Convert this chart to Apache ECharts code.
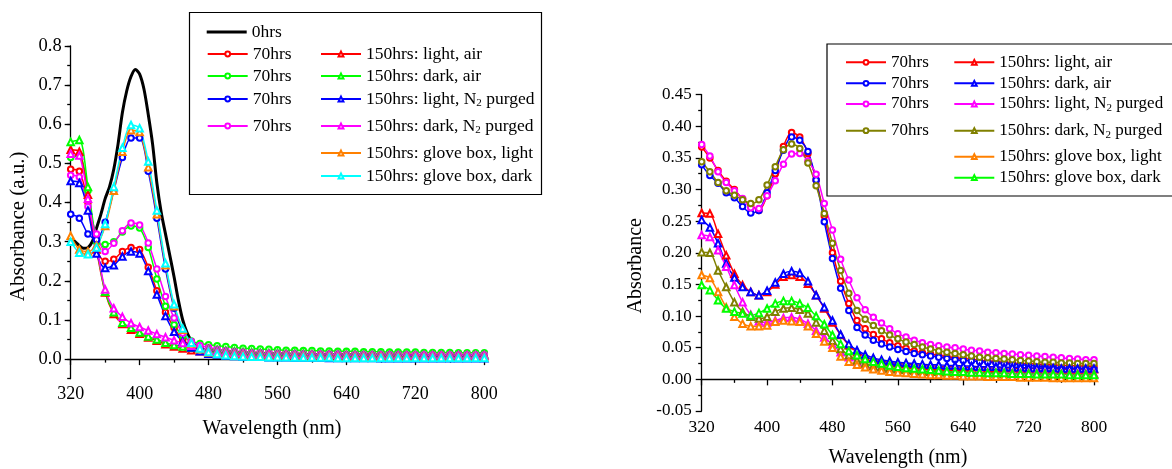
<!DOCTYPE html>
<html>
<head>
<meta charset="utf-8">
<script src="https://cdn.jsdelivr.net/npm/echarts@6/dist/echarts.min.js"></script>
<style>
  html, body { margin: 0; padding: 0; background: #ffffff; }
  #chart { width: 1172px; height: 469px; }
</style>
</head>
<body>
<div id="chart"></div>
<script>
// ---------------- data ----------------
// Common wavelength grid (nm) for the marked spectra
const wavelengths = [
  320, 330, 340, 350, 360, 370, 380, 390, 400, 410,
  420, 430, 440, 450, 460, 470, 480, 490, 500, 510,
  520, 530, 540, 550, 560, 570, 580, 590, 600, 610,
  620, 630, 640, 650, 660, 670, 680, 690, 700, 710,
  720, 730, 740, 750, 760, 770, 780, 790, 800
];

// Fresh film (0 hrs), finer sampling around the band
const fresh0hWl = [
  320, 325, 330, 335, 340, 345, 350, 355, 360, 365,
  370, 375, 380, 385, 390, 395, 400, 405, 410, 415,
  420, 425, 430, 435, 440, 445, 450, 455, 460, 465,
  470, 475, 480, 490, 500, 510, 520, 530, 540, 550,
  560, 570, 580, 590, 600, 610, 620, 630, 640, 650,
  660, 670, 680, 690, 700, 710, 720, 730, 740, 750,
  760, 770, 780, 790, 800
];
const fresh0hAbs = [
  0.310, 0.300, 0.290, 0.283, 0.285, 0.300, 0.335, 0.370, 0.410, 0.440,
  0.485, 0.550, 0.630, 0.685, 0.722, 0.740, 0.728, 0.690, 0.625, 0.550,
  0.450, 0.375, 0.320, 0.265, 0.210, 0.150, 0.100, 0.068, 0.047, 0.036,
  0.028, 0.023, 0.020, 0.016, 0.014, 0.013, 0.012, 0.012, 0.011, 0.011,
  0.011, 0.010, 0.010, 0.010, 0.010, 0.009, 0.009, 0.009, 0.009, 0.009,
  0.008, 0.008, 0.008, 0.008, 0.008, 0.008, 0.008, 0.008, 0.008, 0.008,
  0.008, 0.008, 0.008, 0.008, 0.008
];

// Left panel: 70 hrs
const left70hRed = [
  0.485, 0.480, 0.400, 0.280, 0.250, 0.255, 0.275, 0.285, 0.280, 0.235,
  0.175, 0.120, 0.080, 0.050, 0.035, 0.028, 0.023, 0.020, 0.019, 0.018,
  0.017, 0.016, 0.016, 0.015, 0.015, 0.015, 0.014, 0.014, 0.014, 0.014,
  0.013, 0.013, 0.013, 0.013, 0.013, 0.013, 0.012, 0.012, 0.012, 0.012,
  0.012, 0.012, 0.012, 0.012, 0.012, 0.012, 0.011, 0.011, 0.011
];
const left70hGreen = [
  0.515, 0.520, 0.430, 0.300, 0.293, 0.300, 0.325, 0.340, 0.335, 0.285,
  0.205, 0.135, 0.088, 0.060, 0.046, 0.040, 0.037, 0.034, 0.032, 0.030,
  0.028, 0.027, 0.026, 0.025, 0.024, 0.023, 0.023, 0.022, 0.022, 0.021,
  0.021, 0.020, 0.020, 0.020, 0.019, 0.019, 0.019, 0.018, 0.018, 0.018,
  0.018, 0.017, 0.017, 0.017, 0.017, 0.016, 0.016, 0.016, 0.016
];
const left70hBlue = [
  0.370, 0.360, 0.320, 0.305, 0.350, 0.430, 0.515, 0.565, 0.565, 0.480,
  0.360, 0.230, 0.130, 0.070, 0.040, 0.025, 0.020, 0.017, 0.015, 0.014,
  0.013, 0.012, 0.012, 0.011, 0.011, 0.011, 0.010, 0.010, 0.010, 0.010,
  0.009, 0.009, 0.009, 0.009, 0.009, 0.008, 0.008, 0.008, 0.008, 0.008,
  0.008, 0.008, 0.007, 0.007, 0.007, 0.007, 0.007, 0.007, 0.007
];
const left70hMagenta = [
  0.470, 0.465, 0.390, 0.320, 0.275, 0.296, 0.328, 0.348, 0.343, 0.297,
  0.230, 0.160, 0.105, 0.066, 0.045, 0.035, 0.030, 0.025, 0.022, 0.020,
  0.018, 0.017, 0.016, 0.015, 0.015, 0.014, 0.014, 0.014, 0.013, 0.013,
  0.013, 0.013, 0.012, 0.012, 0.012, 0.012, 0.012, 0.012, 0.012, 0.011,
  0.011, 0.011, 0.011, 0.011, 0.011, 0.011, 0.011, 0.011, 0.011
];

// Left panel: 150 hrs
const left150hLightAir = [
  0.535, 0.530, 0.420, 0.280, 0.170, 0.115, 0.090, 0.075, 0.065, 0.055,
  0.047, 0.038, 0.032, 0.027, 0.023, 0.020, 0.018, 0.016, 0.015, 0.014,
  0.013, 0.013, 0.012, 0.012, 0.011, 0.011, 0.011, 0.010, 0.010, 0.010,
  0.010, 0.010, 0.009, 0.009, 0.009, 0.009, 0.009, 0.009, 0.009, 0.009,
  0.009, 0.009, 0.009, 0.009, 0.009, 0.009, 0.009, 0.009, 0.009
];
const left150hDarkAir = [
  0.555, 0.560, 0.440, 0.290, 0.172, 0.120, 0.093, 0.080, 0.068, 0.058,
  0.050, 0.042, 0.036, 0.032, 0.029, 0.027, 0.026, 0.024, 0.022, 0.020,
  0.019, 0.018, 0.017, 0.016, 0.016, 0.015, 0.015, 0.015, 0.014, 0.014,
  0.014, 0.014, 0.013, 0.013, 0.013, 0.013, 0.013, 0.013, 0.013, 0.012,
  0.012, 0.012, 0.012, 0.012, 0.012, 0.012, 0.012, 0.012, 0.012
];
const left150hLightN2 = [
  0.455, 0.450, 0.380, 0.270, 0.233, 0.240, 0.262, 0.275, 0.270, 0.225,
  0.165, 0.110, 0.070, 0.045, 0.030, 0.020, 0.014, 0.011, 0.009, 0.008,
  0.007, 0.006, 0.006, 0.005, 0.005, 0.005, 0.004, 0.004, 0.004, 0.004,
  0.003, 0.003, 0.003, 0.003, 0.003, 0.003, 0.002, 0.002, 0.002, 0.002,
  0.002, 0.002, 0.002, 0.002, 0.002, 0.002, 0.002, 0.002, 0.002
];
const left150hDarkN2 = [
  0.525, 0.520, 0.410, 0.290, 0.178, 0.130, 0.108, 0.092, 0.082, 0.073,
  0.064, 0.056, 0.048, 0.041, 0.034, 0.028, 0.023, 0.020, 0.018, 0.016,
  0.015, 0.014, 0.013, 0.013, 0.012, 0.012, 0.012, 0.011, 0.011, 0.011,
  0.011, 0.011, 0.010, 0.010, 0.010, 0.010, 0.010, 0.010, 0.010, 0.010,
  0.010, 0.010, 0.010, 0.010, 0.010, 0.010, 0.010, 0.010, 0.010
];
const left150hGloveLight = [
  0.315, 0.280, 0.275, 0.290, 0.340, 0.430, 0.530, 0.585, 0.580, 0.490,
  0.370, 0.240, 0.135, 0.075, 0.040, 0.025, 0.017, 0.013, 0.011, 0.010,
  0.009, 0.008, 0.008, 0.007, 0.007, 0.007, 0.006, 0.006, 0.006, 0.006,
  0.006, 0.005, 0.005, 0.005, 0.005, 0.005, 0.005, 0.005, 0.005, 0.005,
  0.005, 0.004, 0.004, 0.004, 0.004, 0.004, 0.004, 0.004, 0.004
];
const left150hGloveDark = [
  0.300, 0.272, 0.268, 0.285, 0.345, 0.440, 0.540, 0.598, 0.590, 0.505,
  0.380, 0.245, 0.140, 0.078, 0.042, 0.027, 0.018, 0.013, 0.010, 0.008,
  0.007, 0.006, 0.006, 0.005, 0.005, 0.005, 0.004, 0.004, 0.004, 0.004,
  0.004, 0.003, 0.003, 0.003, 0.003, 0.003, 0.003, 0.003, 0.003, 0.003,
  0.003, 0.003, 0.003, 0.003, 0.003, 0.003, 0.003, 0.003, 0.003
];

// Right panel: 70 hrs
const right70hRed = [
  0.367, 0.350, 0.330, 0.313, 0.300, 0.285, 0.275, 0.267, 0.290, 0.325,
  0.368, 0.390, 0.383, 0.357, 0.315, 0.258, 0.200, 0.155, 0.120, 0.093,
  0.080, 0.071, 0.064, 0.058, 0.053, 0.049, 0.045, 0.042, 0.040, 0.038,
  0.036, 0.034, 0.033, 0.032, 0.030, 0.029, 0.028, 0.027, 0.026, 0.025,
  0.025, 0.024, 0.023, 0.023, 0.022, 0.022, 0.021, 0.021, 0.020
];
const right70hBlue = [
  0.339, 0.322, 0.310, 0.295, 0.287, 0.273, 0.263, 0.267, 0.295, 0.330,
  0.362, 0.383, 0.378, 0.360, 0.315, 0.249, 0.191, 0.144, 0.109, 0.082,
  0.070, 0.062, 0.056, 0.051, 0.047, 0.044, 0.041, 0.039, 0.037, 0.035,
  0.033, 0.031, 0.030, 0.029, 0.028, 0.027, 0.026, 0.025, 0.024, 0.023,
  0.022, 0.021, 0.020, 0.019, 0.018, 0.018, 0.017, 0.017, 0.016
];
const right70hMagenta = [
  0.371, 0.353, 0.328, 0.311, 0.298, 0.286, 0.271, 0.270, 0.290, 0.314,
  0.340, 0.356, 0.357, 0.345, 0.324, 0.278, 0.236, 0.190, 0.157, 0.129,
  0.110, 0.098, 0.089, 0.080, 0.072, 0.067, 0.062, 0.058, 0.055, 0.053,
  0.051, 0.050, 0.048, 0.046, 0.045, 0.043, 0.042, 0.041, 0.040, 0.039,
  0.038, 0.037, 0.036, 0.035, 0.034, 0.033, 0.032, 0.031, 0.031
];
const right70hOlive = [
  0.344, 0.328, 0.311, 0.298, 0.291, 0.284, 0.278, 0.284, 0.307, 0.336,
  0.363, 0.372, 0.365, 0.342, 0.306, 0.262, 0.215, 0.172, 0.136, 0.109,
  0.095, 0.085, 0.077, 0.070, 0.064, 0.059, 0.055, 0.051, 0.048, 0.045,
  0.043, 0.041, 0.039, 0.037, 0.035, 0.034, 0.033, 0.032, 0.031, 0.030,
  0.029, 0.028, 0.027, 0.027, 0.026, 0.026, 0.025, 0.025, 0.025
];

// Right panel: 150 hrs
const right150hLightAir = [
  0.263, 0.262, 0.230, 0.196, 0.167, 0.149, 0.138, 0.133, 0.138, 0.150,
  0.162, 0.165, 0.162, 0.151, 0.133, 0.112, 0.090, 0.070, 0.054, 0.043,
  0.036, 0.032, 0.029, 0.027, 0.025, 0.024, 0.023, 0.022, 0.021, 0.021,
  0.020, 0.020, 0.019, 0.019, 0.019, 0.018, 0.018, 0.018, 0.018, 0.017,
  0.017, 0.017, 0.017, 0.017, 0.016, 0.016, 0.016, 0.016, 0.016
];
const right150hDarkAir = [
  0.252, 0.240, 0.215, 0.183, 0.161, 0.146, 0.138, 0.133, 0.140, 0.153,
  0.167, 0.171, 0.168, 0.155, 0.133, 0.114, 0.093, 0.071, 0.056, 0.046,
  0.039, 0.034, 0.031, 0.029, 0.027, 0.026, 0.025, 0.024, 0.023, 0.023,
  0.022, 0.022, 0.021, 0.021, 0.020, 0.020, 0.020, 0.019, 0.019, 0.019,
  0.018, 0.018, 0.018, 0.018, 0.017, 0.017, 0.017, 0.017, 0.017
];
const right150hLightN2 = [
  0.228, 0.225, 0.204, 0.178, 0.149, 0.122, 0.102, 0.092, 0.090, 0.093,
  0.097, 0.098, 0.095, 0.088, 0.077, 0.066, 0.055, 0.043, 0.035, 0.028,
  0.024, 0.021, 0.019, 0.017, 0.016, 0.015, 0.014, 0.013, 0.013, 0.012,
  0.012, 0.012, 0.011, 0.011, 0.011, 0.011, 0.010, 0.010, 0.010, 0.010,
  0.010, 0.010, 0.010, 0.009, 0.009, 0.009, 0.009, 0.009, 0.009
];
const right150hDarkN2 = [
  0.201, 0.200, 0.172, 0.146, 0.122, 0.107, 0.099, 0.096, 0.099, 0.107,
  0.112, 0.113, 0.110, 0.104, 0.090, 0.077, 0.061, 0.048, 0.038, 0.030,
  0.025, 0.021, 0.019, 0.017, 0.016, 0.015, 0.014, 0.013, 0.012, 0.012,
  0.011, 0.011, 0.011, 0.010, 0.010, 0.010, 0.010, 0.009, 0.009, 0.009,
  0.009, 0.009, 0.009, 0.008, 0.008, 0.008, 0.008, 0.008, 0.008
];
const right150hGloveLight = [
  0.165, 0.160, 0.138, 0.114, 0.099, 0.088, 0.084, 0.084, 0.085, 0.091,
  0.093, 0.092, 0.091, 0.084, 0.072, 0.060, 0.050, 0.036, 0.028, 0.023,
  0.019, 0.016, 0.014, 0.012, 0.011, 0.010, 0.009, 0.008, 0.007, 0.007,
  0.006, 0.006, 0.005, 0.005, 0.005, 0.004, 0.004, 0.004, 0.004, 0.003,
  0.003, 0.003, 0.003, 0.002, 0.002, 0.002, 0.002, 0.002, 0.002
];
const right150hGloveDark = [
  0.149, 0.141, 0.125, 0.112, 0.107, 0.104, 0.101, 0.105, 0.112, 0.120,
  0.124, 0.124, 0.120, 0.113, 0.100, 0.087, 0.070, 0.056, 0.045, 0.038,
  0.032, 0.028, 0.025, 0.022, 0.020, 0.018, 0.017, 0.016, 0.015, 0.014,
  0.013, 0.012, 0.012, 0.011, 0.011, 0.010, 0.010, 0.010, 0.009, 0.009,
  0.009, 0.008, 0.008, 0.008, 0.008, 0.007, 0.007, 0.007, 0.007
];

// Tick labels
const leftYTicks = [0.0, 0.1, 0.2, 0.3, 0.4, 0.5, 0.6, 0.7, 0.8];
const xTicks = [320, 400, 480, 560, 640, 720, 800];

// ---------------- styling / layout ----------------
const FONT = '"Liberation Serif", "Times New Roman", Times, serif';
const C = {
  black: '#000000', red: '#ff0000', green: '#00ff00', blue: '#0000ff',
  magenta: '#ff00ff', orange: '#ff8000', cyan: '#00ffff', olive: '#808000'
};

const leftDefs = [
  { key: 'L0',  label: '0hrs', color: C.black, symbol: 'none', x: fresh0hWl, y: fresh0hAbs, width: 3, col: 0, row: 0 },
  { key: 'L1',  label: '70hrs', color: C.red, symbol: 'emptyCircle', y: left70hRed, col: 0, row: 1 },
  { key: 'L2',  label: '70hrs', color: C.green, symbol: 'emptyCircle', y: left70hGreen, col: 0, row: 2 },
  { key: 'L3',  label: '70hrs', color: C.blue, symbol: 'emptyCircle', y: left70hBlue, col: 0, row: 3 },
  { key: 'L4',  label: '70hrs', color: C.magenta, symbol: 'emptyCircle', y: left70hMagenta, col: 0, row: 4 },
  { key: 'L5',  label: '150hrs: light, air', color: C.red, symbol: 'emptyTriangle', y: left150hLightAir, col: 1, row: 1 },
  { key: 'L6',  label: '150hrs: dark, air', color: C.green, symbol: 'emptyTriangle', y: left150hDarkAir, col: 1, row: 2 },
  { key: 'L7',  label: '150hrs: light, N{sub|2} purged', color: C.blue, symbol: 'emptyTriangle', y: left150hLightN2, col: 1, row: 3 },
  { key: 'L8',  label: '150hrs: dark, N{sub|2} purged', color: C.magenta, symbol: 'emptyTriangle', y: left150hDarkN2, col: 1, row: 4 },
  { key: 'L9',  label: '150hrs: glove box, light', color: C.orange, symbol: 'emptyTriangle', y: left150hGloveLight, col: 1, row: 5 },
  { key: 'L10', label: '150hrs: glove box, dark', color: C.cyan, symbol: 'emptyTriangle', y: left150hGloveDark, col: 1, row: 6 }
];
const rightDefs = [
  { key: 'R1',  label: '70hrs', color: C.red, symbol: 'emptyCircle', y: right70hRed, col: 0, row: 0 },
  { key: 'R2',  label: '70hrs', color: C.blue, symbol: 'emptyCircle', y: right70hBlue, col: 0, row: 1 },
  { key: 'R3',  label: '70hrs', color: C.magenta, symbol: 'emptyCircle', y: right70hMagenta, col: 0, row: 2 },
  { key: 'R4',  label: '70hrs', color: C.olive, symbol: 'emptyCircle', y: right70hOlive, col: 0, row: 3 },
  { key: 'R5',  label: '150hrs: light, air', color: C.red, symbol: 'emptyTriangle', y: right150hLightAir, col: 1, row: 0 },
  { key: 'R6',  label: '150hrs: dark, air', color: C.blue, symbol: 'emptyTriangle', y: right150hDarkAir, col: 1, row: 1 },
  { key: 'R7',  label: '150hrs: light, N{sub|2} purged', color: C.magenta, symbol: 'emptyTriangle', y: right150hLightN2, col: 1, row: 2 },
  { key: 'R8',  label: '150hrs: dark, N{sub|2} purged', color: C.olive, symbol: 'emptyTriangle', y: right150hDarkN2, col: 1, row: 3 },
  { key: 'R9',  label: '150hrs: glove box, light', color: C.orange, symbol: 'emptyTriangle', y: right150hGloveLight, col: 1, row: 4 },
  { key: 'R10', label: '150hrs: glove box, dark', color: C.green, symbol: 'emptyTriangle', y: right150hGloveDark, col: 1, row: 5 }
];

const leftLegendLayout = { cols: [206.7, 320], rows: [32, 54, 76, 99, 126, 153, 176], fontSize: 17.5 };
const rightLegendLayout = { cols: [845, 953.3], rows: [62.3, 83.3, 104, 130.7, 156.7, 177.7], fontSize: 17 };

function makeSeries(def, axisIdx) {
  const xs = def.x || wavelengths;
  return {
    name: def.key,
    type: 'line',
    xAxisIndex: axisIdx,
    yAxisIndex: axisIdx === 0 ? 0 : 2,
    data: xs.map((w, i) => [w, def.y[i]]),
    smooth: 0.3,
    symbol: def.symbol,
    symbolSize: def.symbol === 'emptyTriangle' ? 6.5 : 5.5,
    showSymbol: def.symbol !== 'none',
    color: def.color,
    lineStyle: { color: def.color, width: def.width || 1.5 },
    itemStyle: { color: def.color, borderWidth: 1.1 },
    emphasis: { disabled: true },
    silent: true,
    animation: false
  };
}

function makeLegend(def, layout) {
  const lineOnly = def.symbol === 'none';
  return {
    data: [lineOnly ? { name: def.key, icon: 'rect' } : { name: def.key }],
    left: layout.cols[def.col],
    top: layout.rows[def.row] - 10,
    padding: 0,
    itemGap: 0,
    itemWidth: 40,
    itemHeight: lineOnly ? 3 : 6,
    selectedMode: false,
    formatter: () => def.label,
    textStyle: {
      fontFamily: FONT, fontSize: layout.fontSize, color: '#000', lineHeight: 20,
      rich: { sub: { fontFamily: FONT, fontSize: 11, lineHeight: 11, verticalAlign: 'bottom', color: '#000' } }
    }
  };
}

const axisLineStyle = { color: '#000', width: 1.3 };
const labelStyle = (size) => ({ fontFamily: FONT, fontSize: size, color: '#000' });

const option = {
  backgroundColor: '#ffffff',
  animation: false,
  grid: [
    { left: 70.7, top: 46, width: 413.6, height: 332.7, outerBoundsMode: 'none', containLabel: false },
    { left: 701.7, top: 94.6, width: 392.3, height: 316.4, outerBoundsMode: 'none', containLabel: false }
  ],
  xAxis: [0, 1].map(g => ({
    gridIndex: g, type: 'value', min: 320, max: 800, interval: 80,
    axisLine: { lineStyle: axisLineStyle },
    axisTick: { length: 6, lineStyle: axisLineStyle },
    minorTick: { show: true, splitNumber: 2, length: 3.5, lineStyle: axisLineStyle },
    splitLine: { show: false }, minorSplitLine: { show: false },
    axisLabel: Object.assign({ margin: 7, customValues: xTicks }, labelStyle(g === 0 ? 18 : 17.5)),
    name: 'Wavelength (nm)', nameLocation: 'middle', nameGap: g === 0 ? 40 : 37,
    nameTextStyle: Object.assign({ padding: g === 0 ? [0, 11, 0, 0] : [0, 0, 0, 0] }, labelStyle(20))
  })),
  yAxis: [
    {
      gridIndex: 0, type: 'value', min: -0.05, max: 0.8, position: 'left',
      axisLine: { lineStyle: axisLineStyle },
      axisTick: { length: 6, lineStyle: axisLineStyle, customValues: leftYTicks },
      axisLabel: Object.assign({ margin: 9, customValues: leftYTicks, formatter: v => v.toFixed(1) }, labelStyle(18.5)),
      splitLine: { show: false },
      name: 'Absorbance (a.u.)', nameLocation: 'middle', nameGap: 42,
      nameTextStyle: Object.assign({ padding: [0, 28, 0, 0] }, labelStyle(21))
    },
    {
      gridIndex: 0, type: 'value', min: -0.05, max: 0.8, interval: 0.05, position: 'left',
      axisLine: { show: false },
      axisTick: { length: 3.5, lineStyle: axisLineStyle },
      axisLabel: { show: false },
      splitLine: { show: false }
    },
    {
      gridIndex: 1, type: 'value', min: -0.05, max: 0.45, interval: 0.05, position: 'left',
      axisLine: { lineStyle: axisLineStyle },
      axisTick: { length: 6, lineStyle: axisLineStyle },
      minorTick: { show: true, splitNumber: 2, length: 3.5, lineStyle: axisLineStyle },
      axisLabel: Object.assign({ margin: 10, formatter: v => v.toFixed(2) }, labelStyle(17)),
      splitLine: { show: false }, minorSplitLine: { show: false },
      name: 'Absorbance', nameLocation: 'middle', nameGap: 56,
      nameTextStyle: Object.assign({ padding: [0, 26, 0, 0] }, labelStyle(20))
    }
  ],
  legend: [
    ...leftDefs.map(d => makeLegend(d, leftLegendLayout)),
    ...rightDefs.map(d => makeLegend(d, rightLegendLayout))
  ],
  graphic: [
    { type: 'rect', silent: true, z: 0, shape: { x: 189.5, y: 12.5, width: 352, height: 182 },
      style: { fill: 'rgba(0,0,0,0)', stroke: '#000', lineWidth: 1.2 } },
    { type: 'rect', silent: true, z: 0, shape: { x: 827, y: 44, width: 360, height: 152 },
      style: { fill: 'rgba(0,0,0,0)', stroke: '#000', lineWidth: 1.2 } }
  ],
  series: [
    ...leftDefs.map(d => makeSeries(d, 0)),
    ...rightDefs.map(d => makeSeries(d, 1))
  ]
};

const chart = echarts.init(document.getElementById('chart'), null, { renderer: 'canvas' });
chart.setOption(option);
</script>
</body>
</html>
